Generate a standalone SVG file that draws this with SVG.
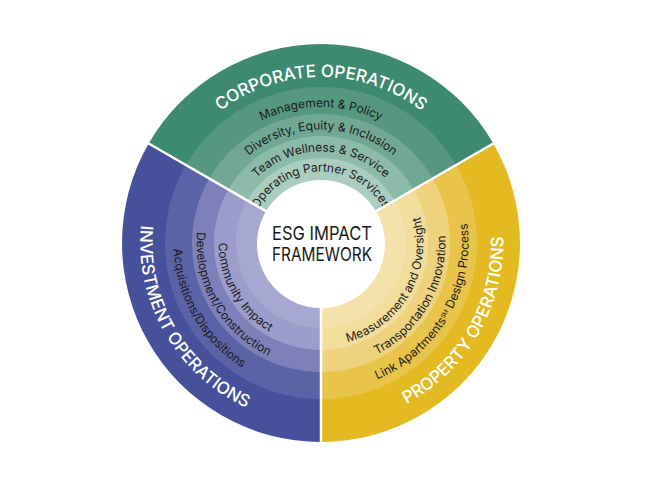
<svg xmlns="http://www.w3.org/2000/svg" xmlns:xlink="http://www.w3.org/1999/xlink" width="650" height="488" viewBox="0 0 650 488">
<style>
.outer{font-family:Inter,"Noto Sans",sans-serif;font-size:17px;font-weight:500;fill:#ffffff;}
.item{font-family:Inter,"Noto Sans",sans-serif;font-size:12px;font-weight:400;fill:#1a1a1a;}
.ctr{font-family:Inter,"Noto Sans",sans-serif;font-size:19px;font-weight:400;fill:#1a1a1a;}
.div{stroke:#ffffff;stroke-width:2.5;fill:none;}
</style>
<defs>
<path id="tC0" d="M155,243 A166,166 0 0 1 487,243"/>
<path id="tC1" d="M185,243 A136,136 0 0 1 457,243"/>
<path id="tC2" d="M207.5,243 A113.5,113.5 0 0 1 434.5,243"/>
<path id="tC3" d="M229.5,243 A91.5,91.5 0 0 1 412.5,243"/>
<path id="tC4" d="M249.5,243 A71.5,71.5 0 0 1 392.5,243"/>
<path id="tI0" d="M230,85.39 A182,182 0 0 0 412,400.61"/>
<path id="tI1" d="M247.25,115.26 A147.5,147.5 0 0 0 394.75,370.74"/>
<path id="tI2" d="M258.75,135.18 A124.5,124.5 0 0 0 383.25,350.82"/>
<path id="tI3" d="M269.75,154.23 A102.5,102.5 0 0 0 372.25,331.77"/>
<path id="tP0" d="M229.5,401.48 A183,183 0 0 0 412.5,84.52"/>
<path id="tP1" d="M246.75,371.6 A148.5,148.5 0 0 0 395.25,114.4"/>
<path id="tP2" d="M258.25,351.68 A125.5,125.5 0 0 0 383.75,134.32"/>
<path id="tP3" d="M269.75,331.77 A102.5,102.5 0 0 0 372.25,154.23"/>
</defs>
<rect width="650" height="488" fill="#ffffff"/>

<g id="corporate">
<path fill="#3e8a70" d="M321,243 L148.67,143.5 A199,199 0 0 1 493.33,143.5 Z"/>
<path fill="#56987f" d="M321,243 L185.9,165 A156,156 0 0 1 456.1,165 Z"/>
<path fill="#70a894" d="M321,243 L209.29,178.5 A129,129 0 0 1 432.71,178.5 Z"/>
<path fill="#8dbbaa" d="M321,243 L228.34,189.5 A107,107 0 0 1 413.66,189.5 Z"/>
<path fill="#abcdc0" d="M321,243 L247.39,200.5 A85,85 0 0 1 394.61,200.5 Z"/>
<text class="outer"><textPath xlink:href="#tC0" href="#tC0" startOffset="50%" text-anchor="middle">CORPORATE OPERATIONS</textPath></text>
<text class="item"><textPath xlink:href="#tC1" href="#tC1" startOffset="50%" text-anchor="middle">Management &amp; Policy</textPath></text>
<text class="item"><textPath xlink:href="#tC2" href="#tC2" startOffset="50%" text-anchor="middle">Diversity, Equity &amp; Inclusion</textPath></text>
<text class="item"><textPath xlink:href="#tC3" href="#tC3" startOffset="50%" text-anchor="middle">Team Wellness &amp; Service</textPath></text>
<text class="item"><textPath xlink:href="#tC4" href="#tC4" startOffset="50%" text-anchor="middle">Operating Partner Services</textPath></text>
</g>

<g id="property">
<path fill="#e3ba22" d="M321,243 L493.33,143.5 A199,199 0 0 1 321,442 Z"/>
<path fill="#e8c54a" d="M321,243 L456.1,165 A156,156 0 0 1 321,399 Z"/>
<path fill="#eed27d" d="M321,243 L432.71,178.5 A129,129 0 0 1 321,372 Z"/>
<path fill="#f2dd9d" d="M321,243 L413.66,189.5 A107,107 0 0 1 321,350 Z"/>
<path fill="#f4e2aa" d="M321,243 L394.61,200.5 A85,85 0 0 1 321,328 Z"/>
<text class="outer"><textPath xlink:href="#tP0" href="#tP0" startOffset="50%" text-anchor="middle">PROPERTY OPERATIONS</textPath></text>
<text class="item"><textPath xlink:href="#tP1" href="#tP1" startOffset="50%" text-anchor="middle">Link Apartments<tspan font-size="6" baseline-shift="super">SM</tspan> Design Process</textPath></text>
<text class="item"><textPath xlink:href="#tP2" href="#tP2" startOffset="50%" text-anchor="middle">Transportation Innovation</textPath></text>
<text class="item"><textPath xlink:href="#tP3" href="#tP3" startOffset="50%" text-anchor="middle">Measurement and Oversight</textPath></text>
</g>

<g id="investment">
<path fill="#47519b" d="M321,243 L321,442 A199,199 0 0 1 148.67,143.5 Z"/>
<path fill="#5b63a7" d="M321,243 L321,399 A156,156 0 0 1 185.9,165 Z"/>
<path fill="#7d80b9" d="M321,243 L321,372 A129,129 0 0 1 209.29,178.5 Z"/>
<path fill="#9c9dca" d="M321,243 L321,350 A107,107 0 0 1 228.34,189.5 Z"/>
<path fill="#a7a8d1" d="M321,243 L321,328 A85,85 0 0 1 247.39,200.5 Z"/>
<text class="outer"><textPath xlink:href="#tI0" href="#tI0" startOffset="50%" text-anchor="middle">INVESTMENT OPERATIONS</textPath></text>
<text class="item"><textPath xlink:href="#tI1" href="#tI1" startOffset="50%" text-anchor="middle">Acquisitions/Dispositions</textPath></text>
<text class="item"><textPath xlink:href="#tI2" href="#tI2" startOffset="50%" text-anchor="middle">Development/Construction</textPath></text>
<text class="item"><textPath xlink:href="#tI3" href="#tI3" startOffset="50%" text-anchor="middle">Community Impact</textPath></text>
</g>

<g id="connectors">
<line class="div" x1="321" y1="243" x2="147.8" y2="143"/>
<line class="div" x1="321" y1="243" x2="494.2" y2="143"/>
<line class="div" x1="321" y1="243" x2="321" y2="443"/>
</g>

<g id="center">
<circle cx="321" cy="244" r="64" fill="#ffffff"/>
<text class="ctr" x="322" y="240" text-anchor="middle" textLength="100" lengthAdjust="spacingAndGlyphs">ESG IMPACT</text>
<text class="ctr" x="322" y="261" text-anchor="middle" textLength="100" lengthAdjust="spacingAndGlyphs">FRAMEWORK</text>
</g>
</svg>
